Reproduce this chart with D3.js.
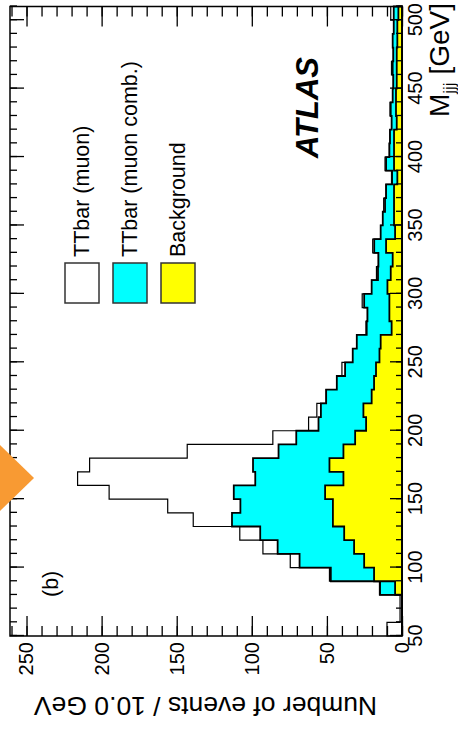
<!DOCTYPE html>
<html>
<head>
<meta charset="utf-8">
<script src="https://cdn.jsdelivr.net/npm/d3@7"></script>
<style>
  body { margin: 0; background: #fff; }
  text { font-family: "Liberation Sans", Arial, Helvetica, sans-serif; }
</style>
</head>
<body>
<div id="chart"></div>
<script>
// lower bin edges, M_jjj [GeV], 10 GeV bins
var binEdges = [50, 60, 70, 80, 90, 100, 110, 120, 130, 140, 150, 160, 170, 180, 190,
  200, 210, 220, 230, 240, 250, 260, 270, 280, 290, 300, 310, 320, 330, 340, 350,
  360, 370, 380, 390, 400, 410, 420, 430, 440, 450, 460, 470, 480, 490, 500];
var binMax = 510;

// events / bin
var ttbarMuon = [10, 1.3, 1.3, 15, 48.3, 74.4, 92.6, 108, 139, 156, 195, 216, 208, 143, 86,
  62.2, 56.7, 50.5, 43.4, 40, 32.8, 30.1, 24, 23, 26.5, 20.2, 17, 15.7, 19.5, 14.2, 12.8,
  12.2, 10.6, 7, 11.3, 8.4, 8, 6.9, 8, 6.2, 5.8, 7, 5.8, 6.2, 5.5, 7.5];
var ttbarComb = [0, 0, 0, 14.6, 47.4, 68.2, 82.8, 94.4, 113.2, 107.6, 112, 97.7, 99.2, 82.2, 70.4,
  55.6, 54, 50.5, 43.4, 37.9, 32.8, 30.1, 23.5, 23, 25.2, 20.2, 16, 15.7, 18.5, 14.2, 12.8,
  11.3, 10.6, 6.6, 10.6, 8.4, 8, 6.9, 7.5, 6.2, 5.8, 6.2, 5.8, 6.2, 5.5, 5.5];
var background = [0, 0, 0, 4.6, 18.6, 25.2, 31.9, 38.5, 46, 46, 51.2, 39, 48.3, 39, 31.2,
  23.9, 25.7, 20.2, 18.6, 17.3, 15, 14.2, 6.9, 8.4, 8.4, 9.7, 7.5, 6.2, 10.6, 4.6, 5.3,
  5.3, 5.3, 3.1, 5.3, 5.3, 5.3, 3.5, 4, 4, 3.5, 3.5, 3.5, 3.1, 3.1, 2.4];

var xMajor = [50, 100, 150, 200, 250, 300, 350, 400, 450, 500];
var yMajor = [0, 50, 100, 150, 200, 250];
var legendNames = ["TTbar (muon)", "TTbar (muon comb.)", "Background"];
var legendColors = ["#ffffff", "#00ffff", "#ffff00"];

var W = 734, H = 458;   // chart is drawn landscape, then turned on its side

var svg = d3.select("#chart").append("svg")
    .attr("width", 458)
    .attr("height", 734);

var g = svg.append("g")
    .attr("transform", "translate(0," + W + ") rotate(-90)");

var x = d3.scaleLinear().domain([50, 510]).range([98, 727.5]),
    y = d3.scaleLinear().domain([0, 261]).range([402, 10]);

var xMinor = x.ticks(46), yMinor = d3.range(0, 261, 10);

function histData(vals) {
    var pts = binEdges.map(function(e, i) { return {m: e, v: vals[i]}; });
    pts.push({m: binMax, v: vals[vals.length - 1]});
    return pts;
}

var area = d3.area()
    .curve(d3.curveStepAfter)
    .x(function(d) { return x(d.m); })
    .y0(y(0))
    .y1(function(d) { return y(d.v); });

// histograms, tallest first
g.append("path").attr("d", area(histData(ttbarMuon)))
    .attr("fill", "#fff").attr("stroke", "#000").attr("stroke-width", 1.2);
g.append("path").attr("d", area(histData(ttbarComb)))
    .attr("fill", "#00ffff").attr("stroke", "#000").attr("stroke-width", 1.8);
g.append("path").attr("d", area(histData(background)))
    .attr("fill", "#ffff00").attr("stroke", "#000").attr("stroke-width", 1.8);

// ticks inside the frame (ROOT style), on both sides
function ticks(axis, tr) {
    var a = g.append("g").attr("transform", tr).call(axis);
    a.select(".domain").remove();
    a.selectAll("line").attr("stroke", "#000").attr("stroke-width", 1.3);
    return a;
}
ticks(d3.axisRight(y).tickValues(yMinor).tickSize(10).tickFormat(""), "translate(98,0)");
ticks(d3.axisRight(y).tickValues(yMajor).tickSize(20).tickFormat(""), "translate(98,0)");
ticks(d3.axisLeft(y).tickValues(yMinor).tickSize(10).tickFormat(""), "translate(727.5,0)");
ticks(d3.axisLeft(y).tickValues(yMajor).tickSize(20).tickFormat(""), "translate(727.5,0)");
ticks(d3.axisTop(x).tickValues(xMinor).tickSize(6).tickFormat(""), "translate(0,402)");
ticks(d3.axisTop(x).tickValues(xMajor).tickSize(12).tickFormat(""), "translate(0,402)");
ticks(d3.axisBottom(x).tickValues(xMinor).tickSize(7).tickFormat(""), "translate(0,10)");
ticks(d3.axisBottom(x).tickValues(xMajor).tickSize(14).tickFormat(""), "translate(0,10)");

// tick labels
var yl = g.append("g").attr("transform", "translate(98,0)")
    .call(d3.axisLeft(y).tickValues(yMajor).tickSize(0).tickPadding(6));
yl.select(".domain").remove();
yl.selectAll("text").style("font-size", "20px").attr("fill", "#000")
    .style("font-family", "'Liberation Sans', Arial, sans-serif");

var xl = g.append("g").attr("transform", "translate(0,402)")
    .call(d3.axisBottom(x).tickValues(xMajor).tickSize(0).tickPadding(6));
xl.select(".domain").remove();
xl.selectAll("text").style("font-size", "20px").attr("fill", "#000")
    .style("font-family", "'Liberation Sans', Arial, sans-serif");

// frame
g.append("rect")
    .attr("x", 98).attr("y", 10)
    .attr("width", 727.5 - 98).attr("height", 392)
    .attr("fill", "none").attr("stroke", "#000").attr("stroke-width", 1.5);

// axis titles
g.append("text")
    .attr("transform", "translate(37,205.5) rotate(-90)")
    .attr("text-anchor", "middle")
    .style("font-size", "26.5px")
    .text("Number of events / 10.0 GeV");

var xt = g.append("text")
    .attr("x", 731).attr("y", 449)
    .attr("text-anchor", "end")
    .style("font-size", "28px");
xt.append("tspan").text("M");
xt.append("tspan").attr("dy", 6).style("font-size", "17px").text("jjj");
xt.append("tspan").attr("dy", -6).text(" [GeV]");

// labels
g.append("text")
    .attr("x", 576).attr("y", 318)
    .style("font-size", "31px").style("font-weight", "bold").style("font-style", "italic")
    .text("ATLAS");

g.append("text")
    .attr("x", 137).attr("y", 58)
    .style("font-size", "21.5px")
    .text("(b)");

// legend
var leg = g.selectAll(".leg")
    .data(legendNames)
    .enter().append("g")
    .attr("class", "leg")
    .attr("transform", function(d, i) { return "translate(0," + (65 + i * 48) + ")"; });

leg.append("rect")
    .attr("x", 431).attr("y", 0)
    .attr("width", 40).attr("height", 34)
    .attr("fill", function(d, i) { return legendColors[i]; })
    .attr("stroke", "#333").attr("stroke-width", 1.5);

leg.append("text")
    .attr("x", 477).attr("y", 24)
    .style("font-size", "21.5px")
    .text(function(d) { return d; });

// orange play marker over the left edge
svg.append("path")
    .attr("d", "M0,445L34,478L0,511Z")
    .attr("fill", "#f89a33");
</script>
</body>
</html>
